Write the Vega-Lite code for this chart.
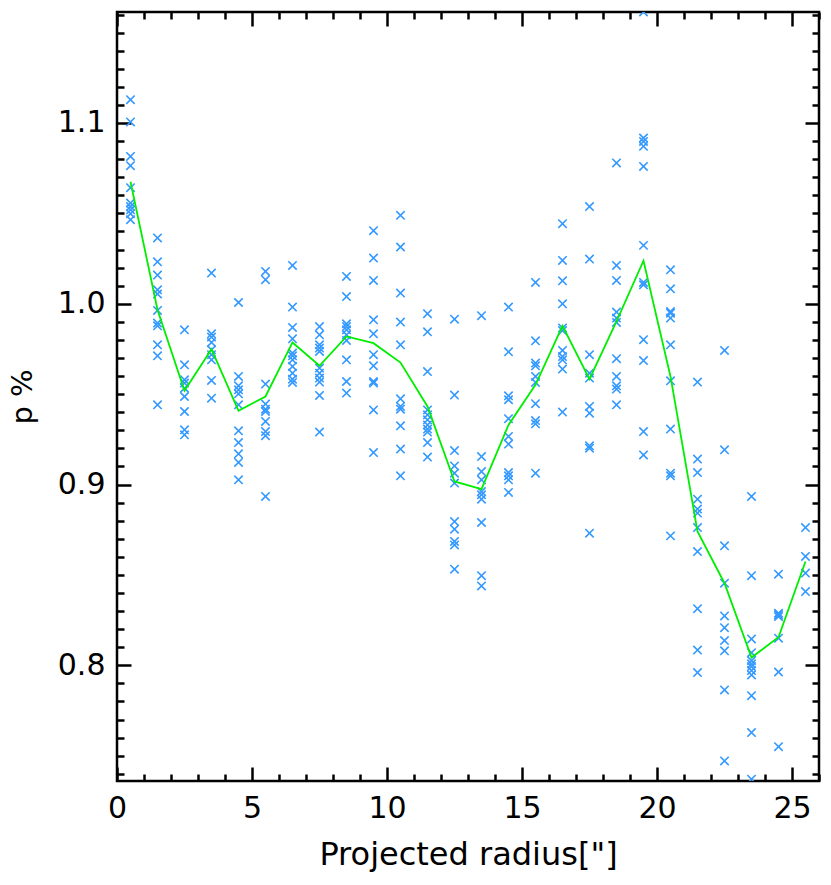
{
  "$schema": "https://vega.github.io/schema/vega-lite/v6.json",
  "width": 702,
  "height": 769,
  "autosize": "none",
  "padding": {"left": 117, "top": 12, "right": 12, "bottom": 104},
  "background": "white",
  "config": {
    "view": {"stroke": "black", "strokeWidth": 2.5},
    "axis": {"domain": false, "grid": false, "tickColor": "black", "tickWidth": 2.5, "labelFont": "DejaVu Sans", "labelFontSize": 30, "labelColor": "black", "titleFont": "DejaVu Sans", "titleFontSize": 32, "titleFontWeight": "normal", "titleColor": "black"}
  },
  "datasets": {
    "pts": [
      {"r":0.5,"p":1.1129},{"r":0.5,"p":1.1006},{"r":0.5,"p":1.0815},{"r":0.5,"p":1.0764},{"r":0.5,"p":1.0642},{"r":0.5,"p":1.0557},{"r":0.5,"p":1.0538},{"r":0.5,"p":1.0520},{"r":0.5,"p":1.0498},{"r":0.5,"p":1.0465},
      {"r":1.5,"p":1.0364},{"r":1.5,"p":1.0232},{"r":1.5,"p":1.0159},{"r":1.5,"p":1.0077},{"r":1.5,"p":1.0054},{"r":1.5,"p":0.9963},{"r":1.5,"p":0.9893},{"r":1.5,"p":0.9878},{"r":1.5,"p":0.9773},{"r":1.5,"p":0.9712},{"r":1.5,"p":0.9441},
      {"r":2.5,"p":0.9856},{"r":2.5,"p":0.9662},{"r":2.5,"p":0.9579},{"r":2.5,"p":0.9561},{"r":2.5,"p":0.9533},{"r":2.5,"p":0.9487},{"r":2.5,"p":0.9404},{"r":2.5,"p":0.9303},{"r":2.5,"p":0.9275},
      {"r":3.5,"p":1.0170},{"r":3.5,"p":0.9834},{"r":3.5,"p":0.9816},{"r":3.5,"p":0.9786},{"r":3.5,"p":0.9745},{"r":3.5,"p":0.9718},{"r":3.5,"p":0.9690},{"r":3.5,"p":0.9576},{"r":3.5,"p":0.9478},
      {"r":4.5,"p":1.0007},{"r":4.5,"p":0.9598},{"r":4.5,"p":0.9546},{"r":4.5,"p":0.9524},{"r":4.5,"p":0.9502},{"r":4.5,"p":0.9441},{"r":4.5,"p":0.9297},{"r":4.5,"p":0.9232},{"r":4.5,"p":0.9170},{"r":4.5,"p":0.9122},{"r":4.5,"p":0.9026},
      {"r":5.5,"p":1.0179},{"r":5.5,"p":1.0133},{"r":5.5,"p":0.9556},{"r":5.5,"p":0.9445},{"r":5.5,"p":0.9417},{"r":5.5,"p":0.9404},{"r":5.5,"p":0.9349},{"r":5.5,"p":0.9293},{"r":5.5,"p":0.9270},{"r":5.5,"p":0.8934},
      {"r":6.5,"p":1.0212},{"r":6.5,"p":0.9982},{"r":6.5,"p":0.9869},{"r":6.5,"p":0.9806},{"r":6.5,"p":0.9727},{"r":6.5,"p":0.9712},{"r":6.5,"p":0.9690},{"r":6.5,"p":0.9653},{"r":6.5,"p":0.9616},{"r":6.5,"p":0.9583},{"r":6.5,"p":0.9565},
      {"r":7.5,"p":0.9874},{"r":7.5,"p":0.9828},{"r":7.5,"p":0.9773},{"r":7.5,"p":0.9755},{"r":7.5,"p":0.9736},{"r":7.5,"p":0.9644},{"r":7.5,"p":0.9616},{"r":7.5,"p":0.9589},{"r":7.5,"p":0.9567},{"r":7.5,"p":0.9493},{"r":7.5,"p":0.9290},
      {"r":8.5,"p":1.0151},{"r":8.5,"p":1.0040},{"r":8.5,"p":0.9889},{"r":8.5,"p":0.9874},{"r":8.5,"p":0.9856},{"r":8.5,"p":0.9828},{"r":8.5,"p":0.9797},{"r":8.5,"p":0.9690},{"r":8.5,"p":0.9570},{"r":8.5,"p":0.9506},
      {"r":9.5,"p":1.0404},{"r":9.5,"p":1.0253},{"r":9.5,"p":1.0129},{"r":9.5,"p":0.9911},{"r":9.5,"p":0.9834},{"r":9.5,"p":0.9718},{"r":9.5,"p":0.9657},{"r":9.5,"p":0.9570},{"r":9.5,"p":0.9561},{"r":9.5,"p":0.9413},{"r":9.5,"p":0.9177},
      {"r":10.5,"p":1.0489},{"r":10.5,"p":1.0314},{"r":10.5,"p":1.0059},{"r":10.5,"p":0.9899},{"r":10.5,"p":0.9773},{"r":10.5,"p":0.9474},{"r":10.5,"p":0.9432},{"r":10.5,"p":0.9417},{"r":10.5,"p":0.9325},{"r":10.5,"p":0.9196},{"r":10.5,"p":0.9048},
      {"r":11.5,"p":0.9945},{"r":11.5,"p":0.9845},{"r":11.5,"p":0.9625},{"r":11.5,"p":0.9413},{"r":11.5,"p":0.9386},{"r":11.5,"p":0.9358},{"r":11.5,"p":0.9330},{"r":11.5,"p":0.9307},{"r":11.5,"p":0.9290},{"r":11.5,"p":0.9232},{"r":11.5,"p":0.9152},
      {"r":12.5,"p":0.9915},{"r":12.5,"p":0.9495},{"r":12.5,"p":0.9188},{"r":12.5,"p":0.9103},{"r":12.5,"p":0.9063},{"r":12.5,"p":0.9008},{"r":12.5,"p":0.8795},{"r":12.5,"p":0.8753},{"r":12.5,"p":0.8685},{"r":12.5,"p":0.8666},{"r":12.5,"p":0.8532},
      {"r":13.5,"p":0.9934},{"r":13.5,"p":0.9155},{"r":13.5,"p":0.9072},{"r":13.5,"p":0.9026},{"r":13.5,"p":0.8961},{"r":13.5,"p":0.8943},{"r":13.5,"p":0.8919},{"r":13.5,"p":0.8790},{"r":13.5,"p":0.8496},{"r":13.5,"p":0.8439},
      {"r":14.5,"p":0.9982},{"r":14.5,"p":0.9734},{"r":14.5,"p":0.9491},{"r":14.5,"p":0.9469},{"r":14.5,"p":0.9364},{"r":14.5,"p":0.9266},{"r":14.5,"p":0.9224},{"r":14.5,"p":0.9066},{"r":14.5,"p":0.9048},{"r":14.5,"p":0.9026},{"r":14.5,"p":0.8956},
      {"r":15.5,"p":1.0118},{"r":15.5,"p":0.9795},{"r":15.5,"p":0.9672},{"r":15.5,"p":0.9657},{"r":15.5,"p":0.9598},{"r":15.5,"p":0.9565},{"r":15.5,"p":0.9447},{"r":15.5,"p":0.9354},{"r":15.5,"p":0.9336},{"r":15.5,"p":0.9063},
      {"r":16.5,"p":1.0443},{"r":16.5,"p":1.0240},{"r":16.5,"p":1.0127},{"r":16.5,"p":1.0000},{"r":16.5,"p":0.9866},{"r":16.5,"p":0.9852},{"r":16.5,"p":0.9742},{"r":16.5,"p":0.9708},{"r":16.5,"p":0.9690},{"r":16.5,"p":0.9639},{"r":16.5,"p":0.9401},
      {"r":17.5,"p":1.0538},{"r":17.5,"p":1.0247},{"r":17.5,"p":0.9718},{"r":17.5,"p":0.9616},{"r":17.5,"p":0.9589},{"r":17.5,"p":0.9432},{"r":17.5,"p":0.9395},{"r":17.5,"p":0.9214},{"r":17.5,"p":0.9201},{"r":17.5,"p":0.8731},
      {"r":18.5,"p":1.0779},{"r":18.5,"p":1.0212},{"r":18.5,"p":1.0129},{"r":18.5,"p":0.9954},{"r":18.5,"p":0.9921},{"r":18.5,"p":0.9897},{"r":18.5,"p":0.9696},{"r":18.5,"p":0.9598},{"r":18.5,"p":0.9546},{"r":18.5,"p":0.9528},{"r":18.5,"p":0.9441},
      {"r":19.5,"p":1.1614},{"r":19.5,"p":1.0917},{"r":19.5,"p":1.0898},{"r":19.5,"p":1.0871},{"r":19.5,"p":1.0760},{"r":19.5,"p":1.0323},{"r":19.5,"p":1.0118},{"r":19.5,"p":1.0105},{"r":19.5,"p":0.9801},{"r":19.5,"p":0.9686},{"r":19.5,"p":0.9293},{"r":19.5,"p":0.9164},
      {"r":20.5,"p":1.0188},{"r":20.5,"p":1.0083},{"r":20.5,"p":0.9957},{"r":20.5,"p":0.9948},{"r":20.5,"p":0.9921},{"r":20.5,"p":0.9773},{"r":20.5,"p":0.9574},{"r":20.5,"p":0.9307},{"r":20.5,"p":0.9063},{"r":20.5,"p":0.9048},{"r":20.5,"p":0.8716},
      {"r":21.5,"p":0.9567},{"r":21.5,"p":0.9141},{"r":21.5,"p":0.9066},{"r":21.5,"p":0.8919},{"r":21.5,"p":0.8864},{"r":21.5,"p":0.8842},{"r":21.5,"p":0.8762},{"r":21.5,"p":0.8629},{"r":21.5,"p":0.8313},{"r":21.5,"p":0.8084},{"r":21.5,"p":0.7960},
      {"r":22.5,"p":0.9742},{"r":22.5,"p":0.9192},{"r":22.5,"p":0.8661},{"r":22.5,"p":0.8454},{"r":22.5,"p":0.8273},{"r":22.5,"p":0.8208},{"r":22.5,"p":0.8137},{"r":22.5,"p":0.8080},{"r":22.5,"p":0.7864},{"r":22.5,"p":0.7471},
      {"r":23.5,"p":0.8934},{"r":23.5,"p":0.8496},{"r":23.5,"p":0.8146},{"r":23.5,"p":0.8070},{"r":23.5,"p":0.8026},{"r":23.5,"p":0.8008},{"r":23.5,"p":0.7993},{"r":23.5,"p":0.7971},{"r":23.5,"p":0.7947},{"r":23.5,"p":0.7832},{"r":23.5,"p":0.7628},{"r":23.5,"p":0.7370},
      {"r":24.5,"p":0.8504},{"r":24.5,"p":0.8288},{"r":24.5,"p":0.8279},{"r":24.5,"p":0.8270},{"r":24.5,"p":0.8150},{"r":24.5,"p":0.7963},{"r":24.5,"p":0.7550},
      {"r":25.5,"p":0.8762},{"r":25.5,"p":0.8602},{"r":25.5,"p":0.8510},{"r":25.5,"p":0.8408}
    ],
    "avg": [
      {"r":0.5,"p":1.0675},{"r":1.5,"p":0.9967},{"r":2.5,"p":0.9519},{"r":3.5,"p":0.9749},{"r":4.5,"p":0.9408},{"r":5.5,"p":0.9487},{"r":6.5,"p":0.9786},{"r":7.5,"p":0.9657},{"r":8.5,"p":0.9819},{"r":9.5,"p":0.9782},{"r":10.5,"p":0.9675},{"r":11.5,"p":0.9432},{"r":12.5,"p":0.9017},{"r":13.5,"p":0.8975},{"r":14.5,"p":0.9330},{"r":15.5,"p":0.9552},{"r":16.5,"p":0.9878},{"r":17.5,"p":0.9583},{"r":18.5,"p":0.9902},{"r":19.5,"p":1.0238},{"r":20.5,"p":0.9598},{"r":21.5,"p":0.8740},{"r":22.5,"p":0.8454},{"r":23.5,"p":0.8043},{"r":24.5,"p":0.8155},{"r":25.5,"p":0.8574}
    ]
  },
  "resolve": {"axis": {"x": "independent", "y": "independent"}},
  "layer": [
    {
      "data": {"name": "pts"},
      "mark": {"type": "point", "shape": "M -1 -1 L 1 1 M -1 1 L 1 -1", "filled": false, "stroke": "#3399ff", "strokeWidth": 1.6, "size": 70, "opacity": 1, "clip": true},
      "encoding": {
        "x": {"field": "r", "type": "quantitative", "scale": {"domain": [0, 26], "nice": false, "zero": false},
              "axis": {"orient": "bottom", "values": [0, 5, 10, 15, 20, 25], "tickSize": -14, "labelPadding": 26, "format": "d", "title": "Projected radius[\"]", "titlePadding": 16, "labelFlush": false}},
        "y": {"field": "p", "type": "quantitative", "scale": {"domain": [0.736, 1.1614], "nice": false, "zero": false},
              "axis": {"orient": "left", "values": [0.8, 0.9, 1.0, 1.1], "tickSize": -14, "labelPadding": 26, "format": ".1f", "title": "p %", "titlePadding": 20, "titleFontSize": 29, "labelFlush": false}}
      }
    },
    {
      "data": {"name": "avg"},
      "mark": {"type": "line", "color": "#00ee00", "strokeWidth": 1.8, "clip": true},
      "encoding": {
        "x": {"field": "r", "type": "quantitative",
              "axis": {"orient": "bottom", "values": [1,2,3,4,6,7,8,9,11,12,13,14,16,17,18,19,21,22,23,24,26], "tickSize": -7, "labels": false, "title": null}},
        "y": {"field": "p", "type": "quantitative",
              "axis": {"orient": "left", "values": [0.74,0.75,0.76,0.77,0.78,0.79,0.81,0.82,0.83,0.84,0.85,0.86,0.87,0.88,0.89,0.91,0.92,0.93,0.94,0.95,0.96,0.97,0.98,0.99,1.01,1.02,1.03,1.04,1.05,1.06,1.07,1.08,1.09,1.11,1.12,1.13,1.14,1.15,1.16], "tickSize": -7, "labels": false, "title": null}}
      }
    },
    {
      "data": {"name": "avg"},
      "mark": {"type": "point", "opacity": 0},
      "encoding": {
        "x": {"field": "r", "type": "quantitative",
              "axis": {"orient": "top", "values": [0, 5, 10, 15, 20, 25], "tickSize": -14, "labels": false, "title": null}},
        "y": {"field": "p", "type": "quantitative",
              "axis": {"orient": "right", "values": [0.8, 0.9, 1.0, 1.1], "tickSize": -14, "labels": false, "title": null}}
      }
    },
    {
      "data": {"name": "avg"},
      "mark": {"type": "point", "opacity": 0},
      "encoding": {
        "x": {"field": "r", "type": "quantitative",
              "axis": {"orient": "top", "values": [1,2,3,4,6,7,8,9,11,12,13,14,16,17,18,19,21,22,23,24,26], "tickSize": -7, "labels": false, "title": null}},
        "y": {"field": "p", "type": "quantitative",
              "axis": {"orient": "right", "values": [0.74,0.75,0.76,0.77,0.78,0.79,0.81,0.82,0.83,0.84,0.85,0.86,0.87,0.88,0.89,0.91,0.92,0.93,0.94,0.95,0.96,0.97,0.98,0.99,1.01,1.02,1.03,1.04,1.05,1.06,1.07,1.08,1.09,1.11,1.12,1.13,1.14,1.15,1.16], "tickSize": -7, "labels": false, "title": null}}
      }
    }
  ]
}
